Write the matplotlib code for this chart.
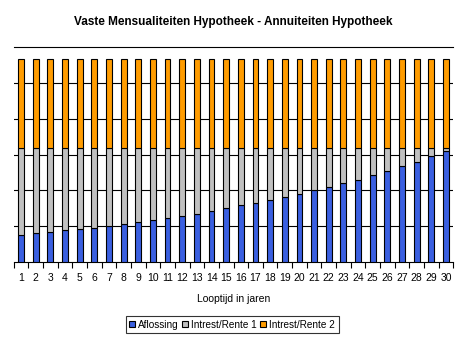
import matplotlib
matplotlib.use("Agg")
import matplotlib.pyplot as plt
import numpy as np

years = list(range(1, 31))
aflossing = [75, 80, 84, 89, 92, 94, 100, 106, 112, 117, 123, 128, 134, 142, 151,
             159, 165, 173, 181, 190, 201, 209, 220, 229, 243, 254, 268, 279, 296, 310]
rente1_top = 317
rente1 = [rente1_top - a for a in aflossing]
rente2 = [249] * 30

title = "Vaste Mensualiteiten Hypotheek - Annuiteiten Hypotheek"
xlabel = "Looptijd in jaren"
labels = ["Aflossing", "Intrest/Rente 1", "Intrest/Rente 2"]
colors = ["#3A5FE0", "#C0C0C0", "#FF9C00"]

plt.rcParams['font.family'] = ['Liberation Sans', 'DejaVu Sans']

fig = plt.figure(figsize=(4.67, 3.51), dpi=100)
ax = fig.add_axes([0.0293, 0.2536, 0.9414, 0.6124])

x = np.arange(len(years))
w = 0.4
b1 = ax.bar(x, aflossing, w, color=colors[0], edgecolor="black", linewidth=0.8, label=labels[0], zorder=3)
b2 = ax.bar(x, rente1, w, bottom=aflossing, color=colors[1], edgecolor="black", linewidth=0.8, label=labels[1], zorder=3)
bot2 = [a + r for a, r in zip(aflossing, rente1)]
b3 = ax.bar(x, rente2, w, bottom=bot2, color=colors[2], edgecolor="black", linewidth=0.8, label=labels[2], zorder=3)

ax.set_xlim(-0.5, len(years) - 0.5)
ax.set_ylim(0, 600)
ax.set_yticks([100, 200, 300, 400, 500])
ax.tick_params(axis='y', length=0, labelleft=False)
ax.yaxis.grid(True, color="black", linewidth=0.8, zorder=0)
for s in ["left", "right"]:
    ax.spines[s].set_visible(False)
ax.spines["top"].set_linewidth(0.8)
ax.spines["bottom"].set_linewidth(0.8)

ax.set_xticks(x)
ax.set_xticklabels([str(y) for y in years], fontsize=7.5)
ax.tick_params(axis='x', which='major', length=0, pad=8)
ax.set_xticks(np.arange(-0.5, len(years), 1.0), minor=True)
ax.tick_params(axis='x', which='minor', length=4, width=0.8, direction='out')

ax.set_xlabel(xlabel, fontsize=7.5, labelpad=8)
fig.suptitle(title, fontsize=8.5, fontweight='bold', y=0.955)

leg = fig.legend(handles=[b1, b2, b3], labels=labels, loc='center', bbox_to_anchor=(0.497, 0.075),
                 ncol=3, fontsize=7.2, frameon=True, fancybox=False, edgecolor="black",
                 handlelength=0.6, handleheight=0.6, handletextpad=0.3, columnspacing=0.35,
                 borderpad=0.35, borderaxespad=0)
leg.get_frame().set_linewidth(0.8)

fig.savefig("out.png", dpi=100)
